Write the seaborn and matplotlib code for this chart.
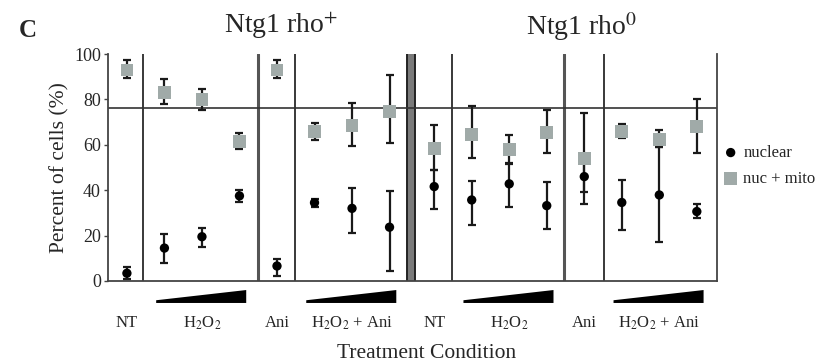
import numpy as np
import pandas as pd
import seaborn as sns
import matplotlib
matplotlib.use('Agg')
import matplotlib.pyplot as plt
from matplotlib.patches import Polygon
from matplotlib.transforms import blended_transform_factory

sns.set_style('white')
plt.rcParams['font.family'] = ['Liberation Serif', 'DejaVu Serif']
plt.rcParams['mathtext.fontset'] = 'stix'

# data (16 conditions, rho+ then rho0)
groups = ['Ntg1 rho$^{+}$', 'Ntg1 rho$^{0}$']
conditions = ['NT', 'H$_2$O$_2$', 'Ani', 'H$_2$O$_2$ + Ani']
nuc_mean = [3.4, 14.5, 19.5, 37.5, 6.6, 34.5, 32.0, 23.7,
            41.6, 35.7, 42.8, 33.2, 46.0, 34.6, 37.9, 30.6]
nuc_lo = [1.0, 8.0, 15.0, 35.0, 2.0, 32.5, 21.0, 4.5,
          31.6, 24.7, 32.5, 22.8, 39.0, 22.5, 17.3, 27.7]
nuc_hi = [6.0, 20.6, 23.2, 40.0, 9.6, 36.0, 41.0, 39.8,
          49.0, 44.1, 52.0, 43.8, 53.0, 44.6, 59.0, 34.0]
mito_mean = [93.0, 83.0, 80.0, 61.4, 93.0, 65.9, 68.4, 74.7,
             58.5, 64.7, 57.8, 65.6, 54.0, 65.9, 62.2, 68.1]
mito_lo = [89.6, 78.0, 75.4, 58.0, 89.6, 62.0, 59.3, 60.7,
           49.0, 54.1, 51.6, 56.3, 34.0, 63.0, 59.2, 56.6]
mito_hi = [97.5, 89.0, 84.7, 65.0, 97.5, 69.6, 78.4, 90.9,
           68.8, 76.9, 64.4, 75.4, 74.0, 69.2, 66.6, 80.1]
ref_line = 76.4

xpos = np.r_[np.arange(8), np.arange(8) + 8.19]
df = pd.DataFrame({
    'x': np.r_[xpos, xpos],
    'value': nuc_mean + mito_mean,
    'lo': nuc_lo + mito_lo,
    'hi': nuc_hi + mito_hi,
    'series': ['nuclear'] * 16 + ['nuc + mito'] * 16,
})

fig = plt.figure(figsize=(8.29, 3.63), dpi=100)
ax = fig.add_axes([0.130, 0.226, 0.735, 0.625])

gray = '#a0aaa8'
# error bars first, dark for both series
for s in ['nuc + mito', 'nuclear']:
    d = df[df['series'] == s]
    ax.errorbar(d['x'], d['value'], yerr=[d['value'] - d['lo'], d['hi'] - d['value']],
                fmt='none', ecolor='#1a1a1a', elinewidth=1.6, capsize=3, capthick=1.6, zorder=3)

mito = df[df['series'] == 'nuc + mito']
nuc = df[df['series'] == 'nuclear']
sns.scatterplot(data=mito, x='x', y='value', marker='s', s=85, color=gray,
                edgecolor='none', label='nuc + mito', ax=ax, zorder=4)
sns.scatterplot(data=nuc, x='x', y='value', marker='o', s=45, color='black',
                edgecolor='none', label='nuclear', ax=ax, zorder=5)

# dividers
for xv in [0.43, 4.48, 8.67, 12.72]:
    ax.axvline(xv, color='#2a2a2a', lw=1.3, zorder=1)
for xv in [3.49, 11.65]:
    ax.axvline(xv, color='#555555', lw=2.2, zorder=1)
ax.axvspan(7.47, 7.68, color='#7a7a7a', lw=0, zorder=1)
ax.axvline(7.47, color='#222222', lw=1.4, zorder=1)
ax.axvline(7.68, color='#222222', lw=1.4, zorder=1)
ax.axhline(ref_line, color='#333333', lw=1.2, zorder=2)

ax.set_xlim(-0.51, 15.73)
ax.set_ylim(0, 100)
ax.set_yticks(range(0, 101, 20))
ax.set_xticks([])
ax.tick_params(axis='y', left=True, length=3, width=1, color='#444444', labelsize=13, pad=2)
for side in ['left', 'bottom', 'right']:
    ax.spines[side].set_color('#444444')
    ax.spines[side].set_linewidth(1.3)
ax.spines['top'].set_visible(False)
ax.set_xlabel('')
ax.set_ylabel('Percent of cells (%)', fontsize=15.5, labelpad=3)

# condition labels, ramps and group titles below / above axes
trans = blended_transform_factory(ax.transData, ax.transAxes)
for g, off in enumerate([0, 8.19]):
    for c, cx in zip(conditions, [0, 2, 4, 6]):
        ax.text(cx + off, -0.185, c, transform=trans, ha='center', va='center', fontsize=12)
    for cx in [2, 6]:
        x0, x1 = cx + off - 1.22, cx + off + 1.18
        ax.add_patch(Polygon([[x0, -0.097], [x0, -0.085], [x1, -0.040], [x1, -0.097]],
                             closed=True, facecolor='black', edgecolor='none',
                             transform=trans, clip_on=False))
ax.text(4.1, 1.128, groups[0], transform=trans, ha='center', va='center', fontsize=20)
ax.text(12.13, 1.12, groups[1], transform=trans, ha='center', va='center', fontsize=20)
ax.text(8.0, -0.32, 'Treatment Condition', transform=trans,
        ha='center', va='center', fontsize=15.5)
fig.text(0.033, 0.917, 'C', fontsize=18, fontweight='bold', ha='center', va='center')

handles, labels = ax.get_legend_handles_labels()
order = [labels.index('nuclear'), labels.index('nuc + mito')]
ax.legend([handles[i] for i in order], [labels[i] for i in order],
          loc='center left', bbox_to_anchor=(1.01, 0.507), frameon=False,
          fontsize=12, handlelength=0.9, handletextpad=0.3, labelspacing=0.6,
          borderpad=0, borderaxespad=0)

fig.savefig('out.png', dpi=100)
